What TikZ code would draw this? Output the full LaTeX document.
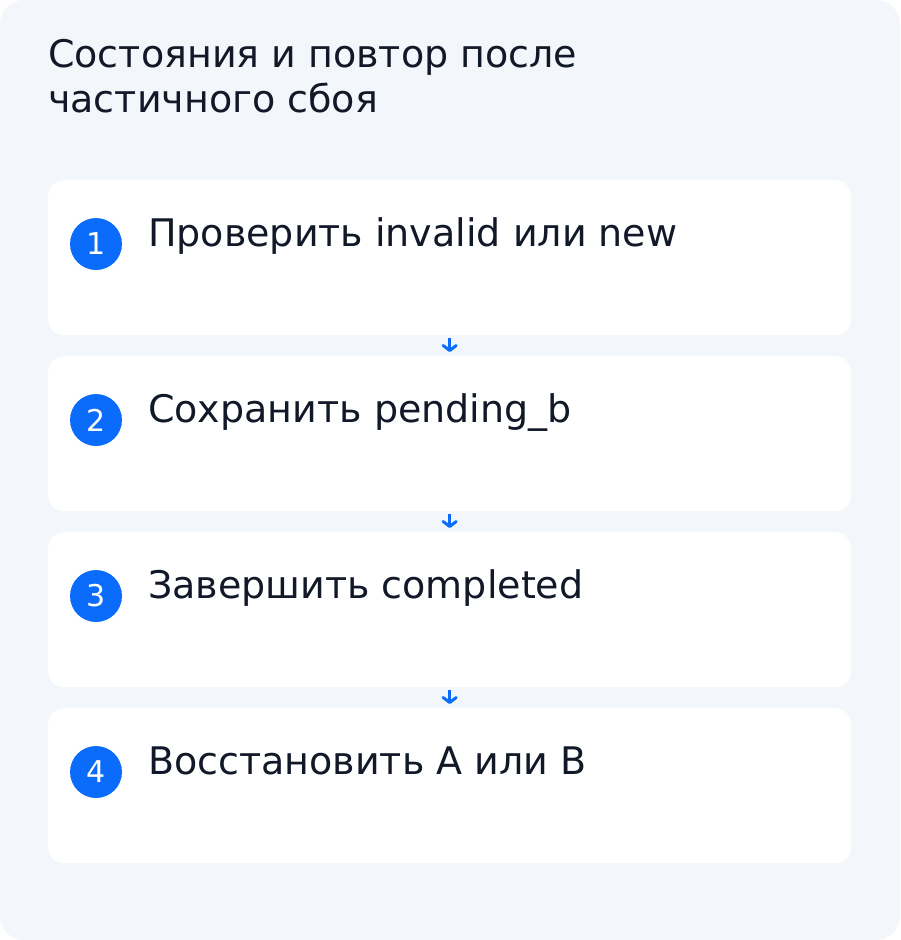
\documentclass[tikz,border=0pt]{standalone}
\usepackage{fontspec}
\setmainfont{DejaVu Sans}
\usetikzlibrary{arrows.meta}
\definecolor{pagebg}{HTML}{F3F6FA}
\definecolor{stepblue}{HTML}{0B6CFB}
\definecolor{inkdark}{HTML}{111827}
\tikzset{
  card/.style={fill=white, rounded corners=16pt, minimum width=803pt, minimum height=155pt, inner sep=0pt},
  badge/.style={circle, fill=stepblue, minimum size=52pt, inner sep=0pt, text=white, font=\fontsize{30}{34}\selectfont},
  steptext/.style={anchor=base west, inner sep=0pt, text=inkdark, font=\fontsize{38}{45}\selectfont},
  flow/.style={draw=stepblue, line width=3pt, -{Straight Barb[length=5pt,width=13pt,line cap=round,line join=round]}, shorten <=3pt, shorten >=4pt}
}
\begin{document}
\begin{tikzpicture}[x=1pt, y=-1pt]
		% Background
		\fill[pagebg, rounded corners=24pt] (0,0) rectangle (900,940);
		\useasboundingbox (0,0) rectangle (900,940);
		% Title
		\node[steptext] (title1) at (48,67) {Состояния и повтор после};
		\node[steptext] (title2) at (48,112) {частичного сбоя};
		% Steps
		\foreach \i/\txt in {1/Проверить invalid или new, 2/Сохранить pending\_b, 3/Завершить completed, 4/Восстановить A или B} {
			\node[card, anchor=north west] (card\i) at (48,{180+176*(\i-1)}) {};
			\node[badge] (num\i) at (96,{244+176*(\i-1)}) {\i};
			\node[steptext] (lbl\i) at (148,{246+176*(\i-1)}) {\txt};
		}
		% Arrows
		\draw[flow] (card1.south) -- (card2.north);
		\draw[flow] (card2.south) -- (card3.north);
		\draw[flow] (card3.south) -- (card4.north);
	\end{tikzpicture}
\end{document}
